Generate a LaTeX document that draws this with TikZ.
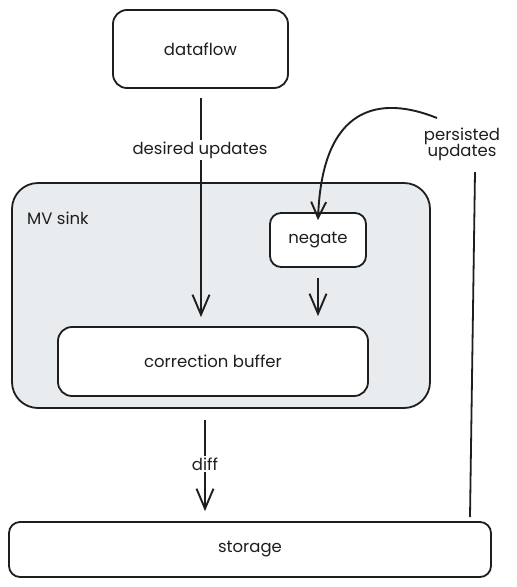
\documentclass[tikz,border=0pt]{standalone}
\usepackage{fontspec}
\setmainfont{Poppins}
\usetikzlibrary{arrows.meta}
\definecolor{ink}{HTML}{1E1E1E}
\definecolor{sinkfill}{HTML}{E9ECEF}
\tikzset{
  box/.style={draw=ink, line width=1.8pt, rounded corners=14pt, fill=white, text=ink, font=\fontsize{16.5}{19}\selectfont, inner sep=0pt},
  group/.style={draw=ink, line width=1.8pt, rounded corners=26pt, fill=sinkfill, inner sep=0pt},
  conn/.style={draw=ink, line width=1.9pt, -{Straight Barb[length=20pt,width=17pt,line width=1.9pt]}},
  lbl/.style={text=ink, font=\fontsize{16.5}{19}\selectfont, inner sep=2pt, align=center},
}
\begin{document}
\begin{tikzpicture}[x=1pt,y=-1pt]
\useasboundingbox (0,0) rectangle (517,587);
\fill[white] (0,0) rectangle (517,587);
% container
\node[group, minimum width=418pt, minimum height=225pt] (sink) at (221,295.5) {};
\node[lbl, anchor=west] (sinklbl) at (25,218) {MV sink};
% boxes
\node[box, minimum width=175pt, minimum height=78pt] (dataflow) at (200.5,49) {dataflow};
\node[box, minimum width=96pt, minimum height=54pt, rounded corners=11pt] (negate) at (318,240) {negate};
\node[box, minimum width=310pt, minimum height=69pt] (corr) at (213,361.5) {correction buffer};
\node[box, minimum width=482pt, minimum height=55pt, rounded corners=11pt] (storage) at (250,549.5) {storage};
% desired updates
\draw[conn, shorten <=9pt, shorten >=9pt] (dataflow.south -| 201,0) -- (corr.north -| 201,0);
\node[lbl, fill=white] (desired) at (200,150) {desired updates};
% negate -> correction
\draw[conn, shorten <=10pt, shorten >=10pt] (negate.south) -- (negate.south |- corr.north);
% diff
\draw[conn, shorten <=11pt, shorten >=10pt] (sink.south -| 205,0) -- (storage.north -| 205,0);
\node[lbl, fill=white] (diff) at (205,464) {diff};
% persisted updates
\node[lbl] (persist) at (462,144) {persisted\\[-3pt]updates};
\coordinate (pstart) at (470,517);
\coordinate (pend) at (475,172);
\draw[ink, line width=1.8pt] (pstart) -- (pend);
\coordinate (cstart) at (437,118);
\draw[conn, -{Straight Barb[length=16pt,width=15pt,line width=1.9pt]}] (cstart) .. controls (380,95) and (322,105) .. ([yshift=-8pt]negate.north);
\end{tikzpicture}
\end{document}
